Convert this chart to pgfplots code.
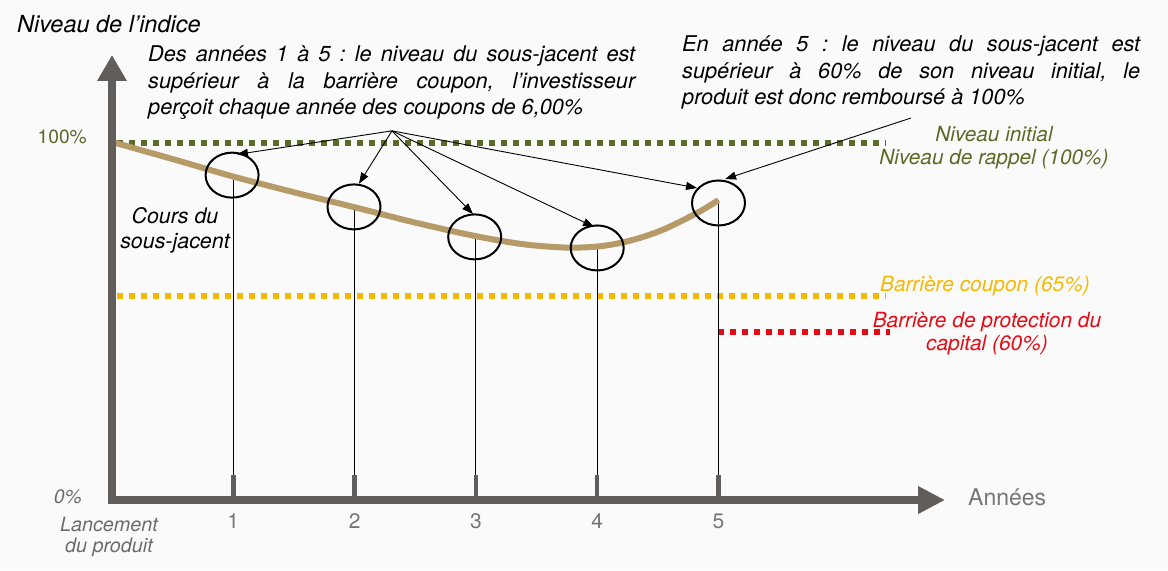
\documentclass[border=0pt]{standalone}
\usepackage{pgfplots}
\pgfplotsset{compat=1.18}
\usepackage{fontspec}
\setmainfont{TeX Gyre Heros}
\usetikzlibrary{arrows.meta}
\definecolor{bgcol}{RGB}{250,250,250}
\definecolor{axiscol}{RGB}{96,93,90}
\definecolor{tancol}{RGB}{182,155,104}
\definecolor{greencol}{RGB}{90,107,40}
\definecolor{yellowcol}{RGB}{246,184,0}
\definecolor{redcol}{RGB}{230,10,20}
\definecolor{graytxt}{RGB}{118,118,118}
\definecolor{graytxtb}{RGB}{108,108,108}
\frenchspacing
\begin{document}
\begin{tikzpicture}
\begin{axis}[
  scale only axis, width=1168bp, height=570bp,
  xmin=-0.92333, xmax=8.70569, ymin=-19.6078, ymax=140.056,
  hide axis, clip=false,
]
% background
\fill[bgcol] (rel axis cs:0,0) rectangle (rel axis cs:1,1);
% reference lines
\addplot[greencol, line width=5.5bp, dash pattern=on 6bp off 6bp] coordinates {(0.041,100) (6.381,100)};
\addplot[yellowcol, line width=5.5bp, dash pattern=on 6bp off 6bp] coordinates {(0.041,57.1) (6.373,57.1)};
\addplot[redcol, line width=5.5bp, dash pattern=on 6bp off 6bp] coordinates {(4.996,47.1) (6.414,47.1)};
% vertical lines from observation dates
\addplot[black, line width=1bp] coordinates {(1,90.6) (1,7)};
\addplot[black, line width=1bp] coordinates {(2,82.0) (2,7)};
\addplot[black, line width=1bp] coordinates {(3,73.9) (3,7)};
\addplot[black, line width=1bp] coordinates {(4,71.0) (4,7)};
\addplot[black, line width=1bp] coordinates {(5,84.0) (5,7)};
\addplot[axiscol, line width=4.5bp] coordinates {(1,7) (1,0)};
\addplot[axiscol, line width=4.5bp] coordinates {(2,7) (2,0)};
\addplot[axiscol, line width=4.5bp] coordinates {(3,7) (3,0)};
\addplot[axiscol, line width=4.5bp] coordinates {(4,7) (4,0)};
\addplot[axiscol, line width=4.5bp] coordinates {(5,7) (5,0)};
% underlying price
\addplot[tancol, line width=6bp, smooth] coordinates {
 (0.03,100) (0.5,95.5) (1,90.6) (1.5,86.2) (2,82.0) (2.5,77.7) (3,73.9)
 (3.4,71.6) (3.75,70.7) (4,71.0) (4.19,72.0) (4.35,73.4) (4.52,75.4)
 (4.68,77.9) (4.85,80.9) (5,84.0)};
% axes
\draw[axiscol, line width=8bp, -{Triangle[length=26bp,width=28bp]}] (axis cs:0,{-4/3.57}) -- (axis cs:0,{(500-55)/3.57});
\draw[axiscol, line width=8bp, -{Triangle[length=27bp,width=26bp]}] (axis cs:{-4/121.3},0) -- (axis cs:{(945-112)/121.3},0);
% circles
\draw[black, line width=2bp] (axis cs:0.99,91.0) ellipse [x radius=26.5bp, y radius=22.5bp];
\draw[black, line width=2bp] (axis cs:1.995,82.1) ellipse [x radius=26.5bp, y radius=22.5bp];
\draw[black, line width=2bp] (axis cs:2.99,73.7) ellipse [x radius=26.5bp, y radius=22.5bp];
\draw[black, line width=2bp] (axis cs:4.0,70.6) ellipse [x radius=26.5bp, y radius=22.5bp];
\draw[black, line width=2bp] (axis cs:5.0,83.2) ellipse [x radius=26.5bp, y radius=22.5bp];
% arrows
\draw[black, line width=0.9bp, -{Triangle[length=11bp,width=8bp]}] (axis cs:2.308,103.4) -- (axis cs:1.03,96.8);
\draw[black, line width=0.9bp, -{Triangle[length=11bp,width=8bp]}] (axis cs:2.308,103.4) -- (axis cs:2.036,88.6);
\draw[black, line width=0.9bp, -{Triangle[length=11bp,width=8bp]}] (axis cs:2.308,103.4) -- (axis cs:2.976,80.1);
\draw[black, line width=0.9bp, -{Triangle[length=11bp,width=8bp]}] (axis cs:2.308,103.4) -- (axis cs:3.974,76.5);
\draw[black, line width=0.9bp, -{Triangle[length=11bp,width=8bp]}] (axis cs:2.308,103.4) -- (axis cs:4.823,87.4);
\draw[black, line width=0.9bp, -{Triangle[length=11bp,width=8bp]}] (axis cs:6.587,107.0) -- (axis cs:5.054,89.9);
% texts
\node[anchor=base west, inner sep=0, font=\fontsize{23.5bp}{28bp}\selectfont\itshape] at (axis cs:{(17-112)/121.3},{(500-33)/3.57}) {Niveau de l’indice};
\node[anchor=base west, inner sep=0, font=\fontsize{21.7bp}{26.3bp}\selectfont\itshape] at (axis cs:{(148-112)/121.3},{(500-62)/3.57})
 {\parbox[t]{487bp}{\tolerance=10000\hyphenpenalty=10000 Des années 1 à 5 : le niveau du sous-jacent est\linebreak supérieur à la barrière coupon, l’investisseur\linebreak perçoit chaque année des coupons de 6,00\%}};
\node[anchor=base west, inner sep=0, font=\fontsize{21.7bp}{26.3bp}\selectfont\itshape] at (axis cs:{(682-112)/121.3},{(500-52)/3.57})
 {\parbox[t]{458bp}{\tolerance=10000\hyphenpenalty=10000 En année 5 : le niveau du sous-jacent est\linebreak supérieur à 60\% de son niveau initial, le\linebreak produit est donc remboursé à 100\%}};
\node[anchor=base east, inner sep=0, text=greencol, font=\fontsize{19.2bp}{23bp}\selectfont] at (axis cs:{(87-112)/121.3},{(500-144)/3.57}) {100\%};
\node[anchor=base east, inner sep=0, text=graytxtb, font=\fontsize{19.4bp}{23bp}\selectfont\itshape] at (axis cs:{(82-112)/121.3},{(500-503)/3.57}) {0\%};
\node[anchor=base, inner sep=0, text=greencol, font=\fontsize{20.8bp}{25bp}\selectfont\itshape] at (axis cs:{(994-112)/121.3},{(500-141)/3.57}) {Niveau initial};
\node[anchor=base, inner sep=0, text=greencol, font=\fontsize{20.8bp}{25bp}\selectfont\itshape] at (axis cs:{(994-112)/121.3},{(500-164)/3.57}) {Niveau de rappel (100\%)};
\node[anchor=base, inner sep=0, font=\fontsize{21.4bp}{25bp}\selectfont\itshape] at (axis cs:{(175-112)/121.3},{(500-223)/3.57}) {Cours du};
\node[anchor=base, inner sep=0, font=\fontsize{21.4bp}{25bp}\selectfont\itshape] at (axis cs:{(175-112)/121.3},{(500-248)/3.57}) {sous-jacent};
\node[anchor=base, inner sep=0, text=yellowcol, font=\fontsize{20.9bp}{25bp}\selectfont\itshape] at (axis cs:{(985-112)/121.3},{(500-291)/3.57}) {Barrière coupon (65\%)};
\node[anchor=base, inner sep=0, text=redcol, font=\fontsize{20.9bp}{25bp}\selectfont\itshape] at (axis cs:{(987-112)/121.3},{(500-327)/3.57}) {Barrière de protection du};
\node[anchor=base, inner sep=0, text=redcol, font=\fontsize{20.9bp}{25bp}\selectfont\itshape] at (axis cs:{(987-112)/121.3},{(500-350)/3.57}) {capital (60\%)};
\node[anchor=base, inner sep=0, text=graytxt, font=\fontsize{21bp}{25bp}\selectfont] at (axis cs:1,{(500-528)/3.57}) {1};
\node[anchor=base, inner sep=0, text=graytxt, font=\fontsize{21bp}{25bp}\selectfont] at (axis cs:2,{(500-528)/3.57}) {2};
\node[anchor=base, inner sep=0, text=graytxt, font=\fontsize{21bp}{25bp}\selectfont] at (axis cs:3,{(500-528)/3.57}) {3};
\node[anchor=base, inner sep=0, text=graytxt, font=\fontsize{21bp}{25bp}\selectfont] at (axis cs:4,{(500-528)/3.57}) {4};
\node[anchor=base, inner sep=0, text=graytxt, font=\fontsize{21bp}{25bp}\selectfont] at (axis cs:5,{(500-528)/3.57}) {5};
\node[anchor=base, inner sep=0, text=graytxtb, font=\fontsize{19.8bp}{24bp}\selectfont\itshape] at (axis cs:{(109-112)/121.3},{(500-531)/3.57}) {Lancement};
\node[anchor=base, inner sep=0, text=graytxtb, font=\fontsize{19.8bp}{24bp}\selectfont\itshape] at (axis cs:{(109-112)/121.3},{(500-552)/3.57}) {du produit};
\node[anchor=base west, inner sep=0, text=graytxt, font=\fontsize{23bp}{27bp}\selectfont] at (axis cs:{(968-112)/121.3},{(500-505)/3.57}) {Années};
\end{axis}
\pgfresetboundingbox
\path[use as bounding box] (current axis.south west) rectangle (current axis.north east);
\end{tikzpicture}
\end{document}
